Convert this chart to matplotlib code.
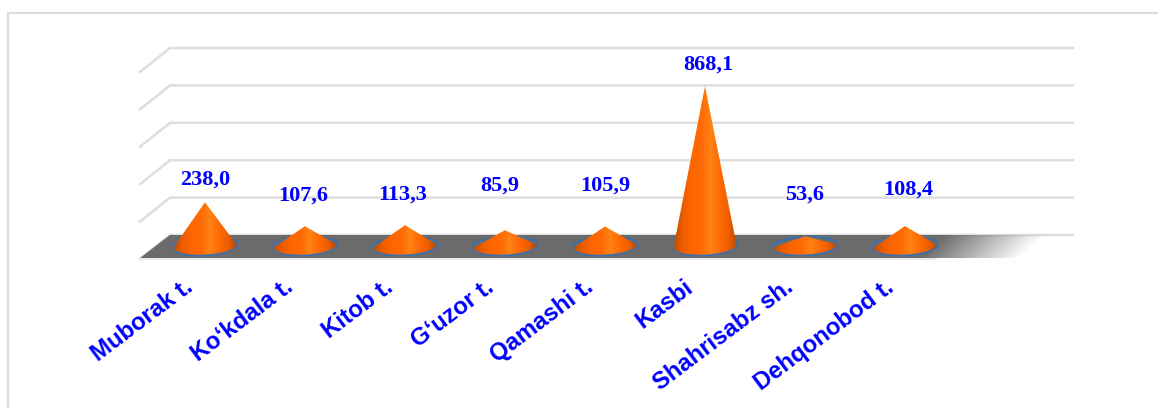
import numpy as np
import matplotlib
matplotlib.use("Agg")
import matplotlib.pyplot as plt
from matplotlib.colors import LinearSegmentedColormap
from matplotlib.patches import Polygon

categories = ["Muborak t.", "Ko\u2018kdala t.", "Kitob t.", "G\u2018uzor t.",
              "Qamashi t.", "Kasbi", "Shahrisabz sh.", "Dehqonobod t."]
values = [238.0, 107.6, 113.3, 85.9, 105.9, 868.1, 53.6, 108.4]
value_labels = ["238,0", "107,6", "113,3", "85,9", "105,9", "868,1", "53,6", "108,4"]
gridlines = [0, 200, 400, 600, 800, 1000]
label_lift_px = [23, 31, 31, 45, 41, 22, 42, 36]
label_shift_px = [0, -2, -2, -5, 0, 3, 0, 3]

W, H = 1158, 408
PX_PER_UNIT = 0.184
BASE_PY = 246.0
GRID0_PY = 235.0
GRID_STEP_PY = 37.4
BLUE = "#0000ff"

fig = plt.figure(figsize=(W / 100, H / 100), dpi=100, facecolor="white")

# pixel-space layer for the chart frame, walls and floor
bg = fig.add_axes([0, 0, 1, 1], zorder=0)
bg.set_xlim(0, W)
bg.set_ylim(H, 0)
bg.axis("off")

bg.plot([7.5, 7.5, W], [H, 12.5, 12.5], color="#dcdcdc", lw=1.5, solid_capstyle="butt")

for k, _ in enumerate(gridlines):
    y = GRID0_PY - k * GRID_STEP_PY
    bg.plot([140, 170, 1073], [y + 24, y, y], color="#dedede", lw=1.8,
            solid_joinstyle="round", zorder=1)
bg.plot([140, 935], [258.5, 258.5], color="#e8e8e8", lw=1.5, zorder=1)

yy, xx = np.mgrid[235:259:48j, 140:1070:930j]
t = np.clip(1 - (xx + 1.0 * (yy - 235) - 945) / 100, 0, 1)
floor_rgba = np.ones(xx.shape + (4,))
floor_rgba[..., :3] = 0.42
floor_rgba[..., 3] = t
floor_img = bg.imshow(floor_rgba, extent=(140, 1070, 258, 235), aspect="auto",
                      interpolation="bilinear", zorder=2)
floor_clip = Polygon([(140, 258), (170, 235), (1070, 235), (1070, 258)],
                     closed=True, transform=bg.transData, fc="none", ec="none")
bg.add_patch(floor_clip)
floor_img.set_clip_path(floor_clip)
bg.set_xlim(0, W)
bg.set_ylim(H, 0)

# data layer: category index horizontally, value vertically
ax = fig.add_axes([0, 0, 1, 1], zorder=1)
ax.patch.set_alpha(0)
ax.axis("off")

cone_cmap = LinearSegmentedColormap.from_list(
    "cone", ["#c05000", "#ee5e00", "#ff6600", "#ff6a06", "#ff8214", "#ff6a04", "#ee5e00", "#b04800"])
HALF_W = 0.315
RY = 8.5 / PX_PER_UNIT
TILT = 1.5 / PX_PER_UNIT
grad = np.linspace(0, 1, 256).reshape(1, -1)

for i, v in enumerate(values):
    th = np.linspace(0, 2 * np.pi, 120)
    ring = np.column_stack([i + (HALF_W + 0.008) * np.cos(th),
                            (RY + 4) * np.sin(th) + TILT * np.cos(th)])
    ax.add_patch(Polygon(ring, closed=True, fc="none", ec="#3f6fa8", lw=1.6, zorder=3))
    th = np.linspace(0, -np.pi, 60)
    lower = np.column_stack([i + HALF_W * np.cos(th), RY * np.sin(th) + TILT * np.cos(th)])
    cone = Polygon(np.vstack([[i, v], lower]), closed=True, fc="none", ec="none")
    ax.add_patch(cone)
    img = ax.imshow(grad, extent=(i - HALF_W, i + HALF_W, -RY - TILT, v), aspect="auto",
                    cmap=cone_cmap, zorder=4)
    img.set_clip_path(cone)
    ax.annotate(value_labels[i], (i, v), xytext=(label_shift_px[i], label_lift_px[i]),
                textcoords="offset pixels", ha="center", va="center", color=BLUE,
                fontsize=16, fontweight="bold", family="Liberation Serif", zorder=5)

ax.set_xlim(-205 / 100, (W - 205) / 100)
ax.set_ylim((BASE_PY - H) / PX_PER_UNIT, BASE_PY / PX_PER_UNIT)

# category labels, anchored at their upper right end
for i, c in enumerate(categories):
    ax.annotate(c, (i, 0), xytext=(-21, -29), textcoords="offset pixels",
                ha="right", va="top", rotation=37, rotation_mode="anchor", color=BLUE,
                fontsize=17.2, fontweight="bold", family="Liberation Sans", zorder=5)

fig.savefig("out.png", dpi=100)
